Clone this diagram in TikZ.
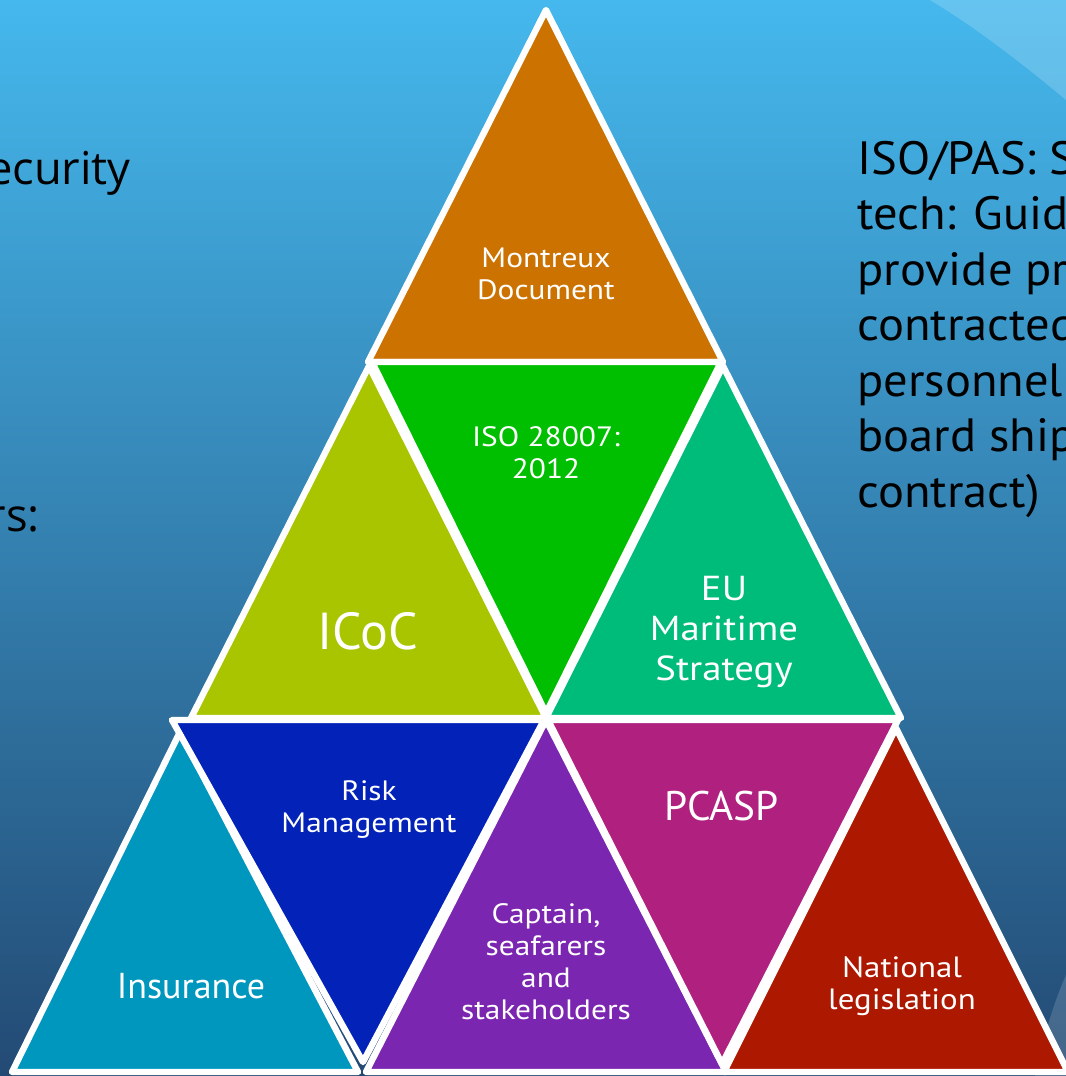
\documentclass[tikz,border=0pt]{standalone}
\usepackage{fontspec}
\setmainfont{PT Sans}
\newfontfamily\wide{PT Sans}[FakeStretch=1.12]
\newfontfamily\sidefont{PT Sans}[FakeStretch=1.04]
\newfontfamily\leftfont{Open Sans}
\definecolor{bgtop}{HTML}{45B8ED}
\definecolor{bgmid}{HTML}{3787BC}
\definecolor{bgbot}{HTML}{234A74}
\definecolor{cMont}{HTML}{CC7200}
\definecolor{cIcoc}{HTML}{A9C500}
\definecolor{cIso}{HTML}{00BE00}
\definecolor{cEu}{HTML}{00BC7A}
\definecolor{cIns}{HTML}{0097BE}
\definecolor{cRisk}{HTML}{0323B8}
\definecolor{cCapt}{HTML}{7B26B0}
\definecolor{cPcasp}{HTML}{B0207F}
\definecolor{cNat}{HTML}{AD1800}
\begin{document}
\begin{tikzpicture}[x=0.75pt,y=-0.75pt,
  tri/.style={draw=white,line width=4.8pt,line join=round},
  lbl/.style={text=white,align=center,inner sep=0pt},
  small/.style={font=\wide\fontsize{21}{24}\selectfont},
  side/.style={text=black,inner sep=0pt,font=\sidefont\fontsize{35}{41.6}\selectfont}]
\useasboundingbox (0,0) rectangle (1066,1076);
\clip (0,0) rectangle (1066,1076);
% background
\shade[top color=bgtop, middle color=bgmid, bottom color=bgbot] (0,0) rectangle (1066,1076);
\fill[white,opacity=0.18] (930,0) .. controls (980,30) and (1030,70) .. (1066,100) -- (1066,0) -- cycle;
\fill[white,opacity=0.15] (1035,1076) .. controls (1045,1030) and (1055,1000) .. (1066,975) -- (1066,1076) -- cycle;
% row 1
\filldraw[tri,fill=cMont] (546,10) -- (723,362) -- (368,362) -- cycle;
% row 2
\filldraw[tri,fill=cIcoc] (369,366) -- (546,718) -- (191,718) -- cycle;
\filldraw[tri,fill=cEu] (723,366) -- (901,718) -- (546,718) -- cycle;
\filldraw[tri,fill=cIso] (372,362) -- (721,362) -- (546,713) -- cycle;
% row 3
\filldraw[tri,fill=cIns] (180,732) -- (358,1072) -- (12,1072) -- cycle;
\filldraw[tri,fill=cCapt] (546,720) -- (726,1072) -- (366,1072) -- cycle;
\filldraw[tri,fill=cNat] (896,728) -- (1068,1072) -- (724,1072) -- cycle;
\filldraw[tri,fill=cRisk] (172,720) -- (544,720) -- (363,1062) -- cycle;
\filldraw[tri,fill=cPcasp] (548,720) -- (898,720) -- (722,1064) -- cycle;
% labels
\node[lbl,small] (mont) at (546,274) {Montreux\\Document};
\node[lbl,small] (iso) at (546,453) {ISO 28007:\\2012};
\node[lbl,font=\fontsize{39}{44}\selectfont] (icoc) at (368,631) {ICoC};
\node[lbl,font=\wide\fontsize{26}{30}\selectfont] (eu) at (724,632) {EU\\Maritime\\Strategy};
\node[lbl,small] (risk) at (369,810) {Risk\\Management};
\node[lbl,font=\fontsize{31}{34}\selectfont] (pcasp) at (722,806) {PCASP};
\node[lbl,font=\fontsize{27}{30}\selectfont] (ins) at (191,986) {Insurance};
\node[lbl,small] (capt) at (546,962) {Captain,\\seafarers\\and\\stakeholders};
\node[lbl,font=\wide\fontsize{22}{24}\selectfont] (nat) at (902,986) {National\\legislation};
% side texts
\node[side,anchor=base east,font=\leftfont\fontsize{34}{40}\selectfont] (l1) at (131,184) {ecurity};
\node[side,anchor=base east,font=\leftfont\fontsize{34}{40}\selectfont] (l2) at (40,531) {rs:};
\foreach \t [count=\i from 0] in {ISO/PAS: S,tech: Guid,provide pr,contracted,personnel,board ship,contract)}
  \node[side,anchor=base west] (r\i) at (857,174+55.5*\i) {\t};
\end{tikzpicture}
\end{document}
